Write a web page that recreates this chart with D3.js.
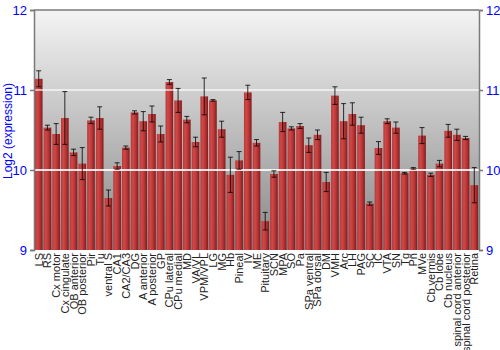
<!DOCTYPE html>
<html>
<head>
<meta charset="utf-8">
<script src="https://cdn.jsdelivr.net/npm/d3@7"></script>
<style>
  body { margin: 0; background: #fff; }
  svg { font-family: "Liberation Sans", Arial, sans-serif; }
</style>
</head>
<body>
<div id="chart-container"></div>
<script>
// Tissues along the x axis
var regions = ['LS', 'RS', 'Cx motor', 'Cx cingulate', 'OB anterior', 'OB posterior', 'Pir', 'Tu',
  'ventral S', 'CA1', 'CA2/CA3', 'DG', 'A anterior', 'A posterior', 'GP', 'CPu lateral', 'CPu medial',
  'MD', 'VA/VL', 'VPM/VPL', 'LG', 'MG', 'Hb', 'Pineal', 'IV', 'ME', 'Pituitary', 'SCN', 'MPA', 'SO',
  'Pa', 'SPa ventral', 'SPa dorsal', 'DM', 'VMH', 'Arc', 'LH', 'PAG', 'SC', 'IC', 'VTA', 'SN', 'Tg',
  'Pn', 'MVe', 'Cb vermis', 'Cb lobe', 'Cb nucleus', 'spinal cord anterior', 'spinal cord posterior', 'Retina'];

// Mean log2 expression
var means = [11.14, 10.53, 10.45, 10.65, 10.22, 10.08, 10.62, 10.65,
  9.65, 10.05, 10.28, 10.72, 10.61, 10.70, 10.45, 11.10, 10.87,
  10.63, 10.35, 10.92, 10.87, 10.51, 9.94, 10.12, 10.97, 10.34, 9.36, 9.95, 10.60, 10.52,
  10.55, 10.31, 10.44, 9.85, 10.93, 10.61, 10.70, 10.56, 9.58, 10.275, 10.61, 10.53, 9.96,
  10.02, 10.43, 9.94, 10.08, 10.49, 10.44, 10.40, 9.81];

// Error (+/-)
var errors = [0.10, 0.03, 0.13, 0.33, 0.04, 0.20, 0.04, 0.14,
  0.10, 0.04, 0.02, 0.02, 0.12, 0.10, 0.10, 0.03, 0.15,
  0.04, 0.06, 0.23, 0.01, 0.10, 0.22, 0.11, 0.09, 0.04, 0.11, 0.04, 0.12, 0.02,
  0.03, 0.09, 0.06, 0.12, 0.11, 0.22, 0.14, 0.10, 0.02, 0.08, 0.03, 0.07, 0.01,
  0.01, 0.10, 0.02, 0.04, 0.08, 0.07, 0.02, 0.22];

var yTicks = [9, 10, 11, 12];

var margin = { top: 10, right: 21, bottom: 100, left: 34 },
  width = 500 - margin.left - margin.right,
  height = 350 - margin.top - margin.bottom;

var svgRoot = d3.select('#chart-container').append('svg')
  .attr('width', 500)
  .attr('height', 350);

// gradients
var defs = svgRoot.append('defs');
var bg = defs.append('linearGradient').attr('id', 'bg')
  .attr('x1', 0).attr('y1', 0).attr('x2', 0).attr('y2', 1);
bg.append('stop').attr('offset', '0%').attr('stop-color', '#f4f4f4');
bg.append('stop').attr('offset', '100%').attr('stop-color', '#878787');

var barGrad = defs.append('linearGradient').attr('id', 'barGrad')
  .attr('x1', 0).attr('y1', 0).attr('x2', 1).attr('y2', 0);
barGrad.append('stop').attr('offset', '0%').attr('stop-color', '#b33a3a');
barGrad.append('stop').attr('offset', '30%').attr('stop-color', '#d04848');
barGrad.append('stop').attr('offset', '65%').attr('stop-color', '#b83434');
barGrad.append('stop').attr('offset', '100%').attr('stop-color', '#7e1c1c');

var svg = svgRoot.append('g')
  .attr('transform', 'translate(' + margin.left + ',' + margin.top + ')');

var x = d3.scaleBand()
  .domain(regions)
  .range([0, width])
  .paddingInner(0.12)
  .paddingOuter(0.1);

var y = d3.scaleLinear()
  .domain([9, 12])
  .range([height, 0]);

// plot background
svg.append('rect')
  .attr('width', width)
  .attr('height', height)
  .attr('fill', 'url(#bg)');

// bars
svg.selectAll('.bar')
  .data(regions)
  .enter().append('rect')
  .attr('class', 'bar')
  .attr('x', function (d) { return x(d); })
  .attr('width', x.bandwidth())
  .attr('y', function (d, i) { return y(means[i]); })
  .attr('height', function (d, i) { return height - y(means[i]); })
  .attr('fill', 'url(#barGrad)');

// grid lines (drawn over the bars, slightly transparent)
svg.selectAll('.grid')
  .data([10, 11])
  .enter().append('line')
  .attr('x1', 0).attr('x2', width)
  .attr('y1', function (d) { return y(d); })
  .attr('y2', function (d) { return y(d); })
  .attr('stroke', '#fff')
  .attr('stroke-opacity', function (d) { return d === 10 ? 0.85 : 0.6; })
  .attr('stroke-width', 2);

// error bars
var err = svg.selectAll('.err')
  .data(regions)
  .enter().append('g')
  .attr('class', 'err')
  .attr('stroke', '#000')
  .attr('stroke-opacity', 0.8)
  .attr('stroke-width', 1);

err.append('line')
  .attr('x1', function (d) { return x(d) + x.bandwidth() / 2; })
  .attr('x2', function (d) { return x(d) + x.bandwidth() / 2; })
  .attr('y1', function (d, i) { return y(means[i] + errors[i]); })
  .attr('y2', function (d, i) { return y(means[i] - errors[i]); });

[1, -1].forEach(function (s) {
  err.append('line')
    .attr('x1', function (d) { return x(d) + x.bandwidth() / 2 - 2.5; })
    .attr('x2', function (d) { return x(d) + x.bandwidth() / 2 + 2.5; })
    .attr('y1', function (d, i) { return y(means[i] + s * errors[i]); })
    .attr('y2', function (d, i) { return y(means[i] + s * errors[i]); });
});

// frame: top, left, right
svg.append('line')
  .attr('x1', 0).attr('x2', width).attr('y1', 0).attr('y2', 0)
  .attr('stroke', '#7a7a7a').attr('stroke-width', 1.5);

// left and right axes
var leftAxis = svg.append('g')
  .call(d3.axisLeft(y).tickValues(yTicks).tickSize(4).tickPadding(3).tickFormat(d3.format('d')));
var rightAxis = svg.append('g')
  .attr('transform', 'translate(' + width + ',0)')
  .call(d3.axisRight(y).tickValues(yTicks).tickSize(4).tickPadding(3).tickFormat(d3.format('d')));

[leftAxis, rightAxis].forEach(function (a) {
  a.select('.domain').attr('stroke', '#7a7a7a').attr('stroke-width', 1.5);
  a.selectAll('.tick line').attr('stroke', '#7a7a7a').attr('stroke-width', 1.5);
  a.selectAll('.tick text')
    .attr('fill', '#0000ff')
    .style('font-size', '13px')
    .style('font-family', '"Liberation Sans", Arial, sans-serif');
});

// x labels
svg.selectAll('.xlabel')
  .data(regions)
  .enter().append('text')
  .attr('class', 'xlabel')
  .attr('transform', function (d) {
    return 'translate(' + (x(d) + x.bandwidth() / 2 + 4) + ',' + (height + 3) + ') rotate(-90)';
  })
  .attr('text-anchor', 'end')
  .attr('fill', '#222')
  .style('font-size', '11px')
  .text(function (d) { return d; });

// y axis title
svgRoot.append('text')
  .attr('transform', 'translate(12,' + (margin.top + 121) + ') rotate(-90)')
  .attr('text-anchor', 'middle')
  .attr('fill', '#0000ff')
  .style('font-size', '12px')
  .text('Log2 (expression)');
</script>
</body>
</html>
